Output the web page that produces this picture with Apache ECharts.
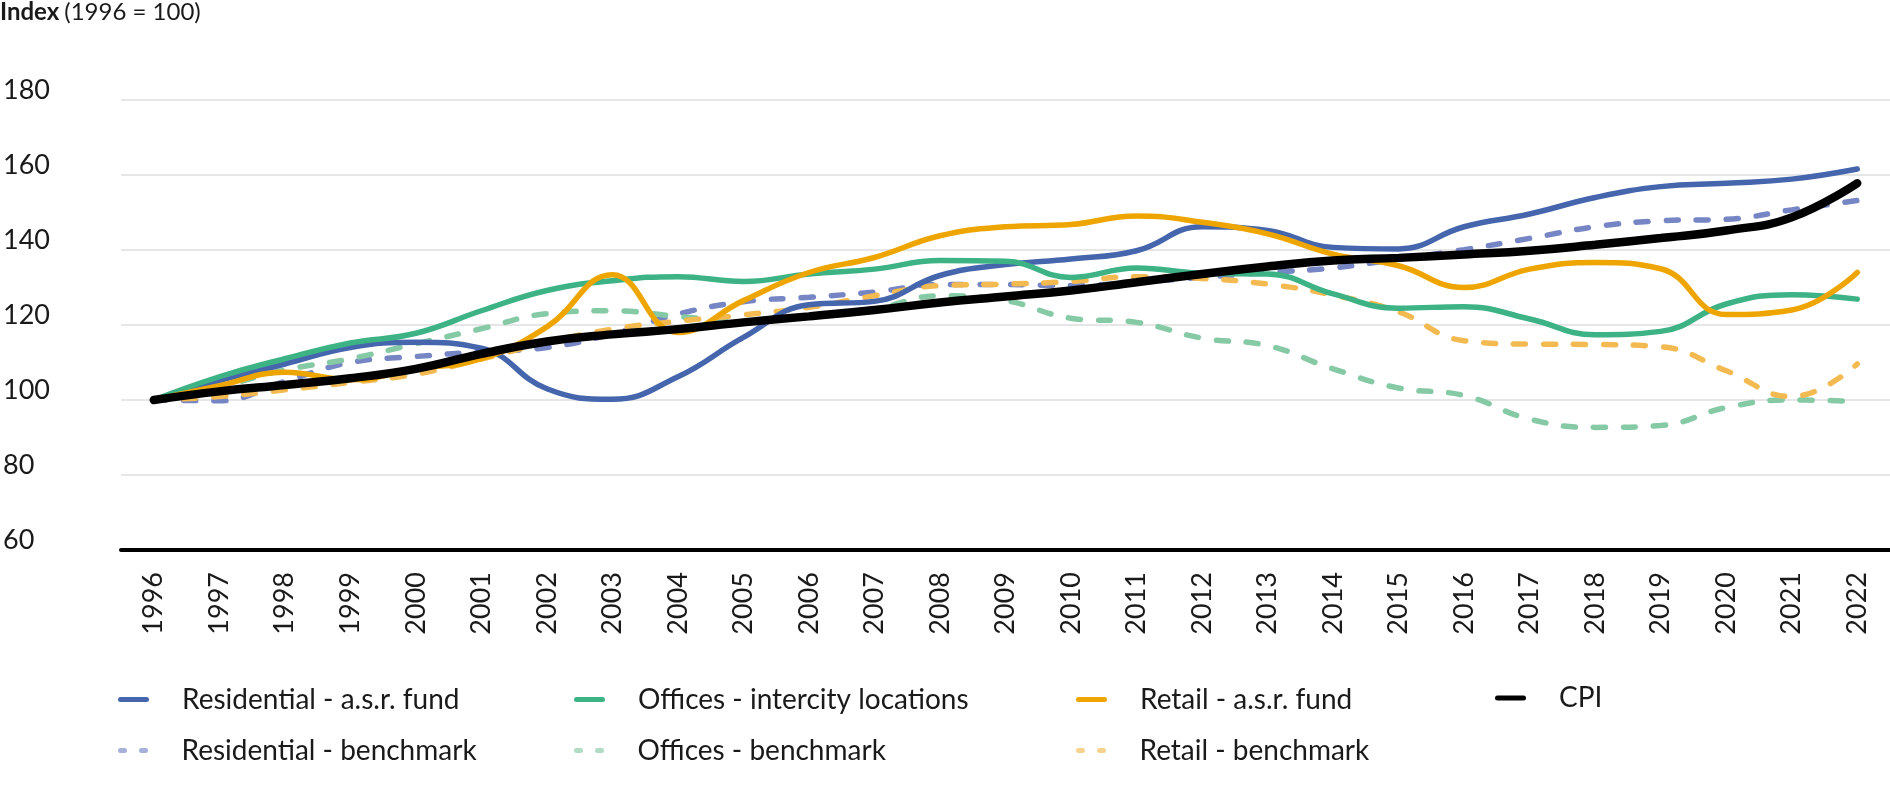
<!doctype html>
<html>
<head>
<meta charset="utf-8">
<title>Index 1996 = 100</title>
<script src="https://cdn.jsdelivr.net/npm/echarts@6/dist/echarts.min.js"></script>
<style>
  html, body { margin: 0; padding: 0; background: #fff; }
  #main { width: 1890px; height: 800px; }
</style>
</head>
<body>
<div id="main"></div>
<script>
// years on the x axis
var years = ['1996','1997','1998','1999','2000','2001','2002','2003','2004','2005','2006','2007','2008','2009',
             '2010','2011','2012','2013','2014','2015','2016','2017','2018','2019','2020','2021','2022'];

// index values (1996 = 100)
var resFund  = [100, 105.2, 109.6, 114.0, 115.4, 113.8, 103.0, 100.2, 106.2, 116.7, 125.4, 126.3, 133.2, 136.1,
                137.6, 139.8, 146.2, 145.2, 140.7, 140.3, 146.2, 149.6, 154.0, 156.9, 157.8, 158.9, 161.6];
var offFund  = [100, 106.2, 111.0, 115.2, 117.8, 123.8, 129.2, 131.8, 132.9, 131.6, 133.6, 134.9, 137.2, 137.0,
                132.7, 135.2, 133.8, 133.6, 128.3, 124.5, 124.9, 121.6, 117.4, 118.3, 125.6, 128.1, 126.9];
var retFund  = [100, 103.8, 107.4, 105.4, 108.3, 111.0, 119.5, 133.4, 118.0, 126.5, 134.0, 138.0, 143.8, 146.2,
                146.8, 149.1, 147.4, 144.3, 138.9, 135.8, 130.0, 134.9, 136.7, 135.0, 122.8, 124.0, 134.0];
var cpi      = [100, 102.3, 104.0, 105.8, 108.3, 112.3, 115.6, 117.5, 118.9, 120.7, 122.3, 124.0, 126.0, 127.6,
                129.2, 131.4, 133.6, 135.6, 137.2, 137.9, 138.8, 139.8, 141.4, 143.2, 145.2, 148.7, 157.8];
var resBench = [100, 99.8, 105.0, 110.0, 111.6, 112.9, 114.0, 117.6, 122.9, 126.2, 127.4, 128.8, 130.8, 130.8,
                130.5, 131.4, 132.7, 134.0, 135.2, 137.6, 140.1, 143.1, 146.2, 147.8, 148.2, 150.7, 153.2];
var offBench = [100, 103.5, 108.0, 111.0, 115.0, 119.0, 123.0, 123.8, 122.3, 121.0, 122.5, 124.3, 127.8, 126.5,
                121.8, 120.7, 116.5, 114.5, 108.3, 103.2, 101.2, 94.9, 92.7, 93.2, 98.0, 100.0, 99.6];
var retBench = [100, 100.9, 102.7, 104.7, 106.9, 110.9, 115.4, 118.9, 121.0, 122.7, 124.7, 127.8, 130.5, 130.9,
                131.6, 132.9, 132.4, 130.9, 128.0, 123.5, 115.8, 114.9, 114.8, 114.2, 107.8, 100.9, 109.6];

var font = 'Lato, "Noto Sans", sans-serif';
var txt = '#1a1a1a';

// legend icons: a short rounded bar, or two rounded dots for the benchmarks
var barIcon = 'path://M2.5,0 h26 a2.5,2.5 0 0 1 0,5 h-26 a2.5,2.5 0 0 1 0,-5 z';
var dotIcon = 'path://M2.5,0 h4 a2.5,2.5 0 0 1 0,5 h-4 a2.5,2.5 0 0 1 0,-5 z M23.5,0 h4 a2.5,2.5 0 0 1 0,5 h-4 a2.5,2.5 0 0 1 0,-5 z';

var myChart = echarts.init(document.getElementById('main'));

// one legend box per item so the columns line up like the original
function leg(name, left, center, h, dashed) {
    return {
        data: [{ name: name, icon: dashed ? dotIcon : barIcon }],
        left: left,
        top: center - h / 2,
        padding: 0,
        itemWidth: 31,
        itemHeight: h,
        itemStyle: { opacity: dashed ? 0.65 : 1 },
        textStyle: { fontSize: 28, fontFamily: font, color: txt, padding: [0, 0, 0, 28] }
    };
}

function line(name, data, color, width, dashed, z) {
    return {
        name: name,
        type: 'line',
        data: data,
        smooth: 0.45,
        symbol: 'none',
        z: z,
        lineStyle: { color: color, width: width, type: dashed ? [12, 18] : 'solid', cap: 'round' },
        itemStyle: { color: color },
        emphasis: { disabled: true }
    };
}

option = {
    animation: false,
    title: {
        left: 0, top: 0, padding: 0,
        text: '{b|Index} {n|(1996 = 100)}',
        textStyle: {
            fontWeight: 'normal',
            rich: {
                b: { fontSize: 24, fontWeight: 'bold', fontFamily: font, color: txt },
                n: { fontSize: 24, fontWeight: 'normal', fontFamily: font, color: txt }
            }
        }
    },
    legend: [
        leg('Residential - a.s.r. fund', 118, 688, 5, false),
        leg('Offices - intercity locations', 574, 688, 5, false),
        leg('Retail - a.s.r. fund', 1076, 688, 5, false),
        leg('CPI', 1495, 688, 8, false),
        leg('Residential - benchmark', 118, 739, 5, true),
        leg('Offices - benchmark', 574, 739, 5, true),
        leg('Retail - benchmark', 1076, 739, 5, true)
    ],
    grid: { left: 118, right: 0, top: 100, bottom: 250 },
    xAxis: {
        type: 'category',
        data: years,
        boundaryGap: true,
        axisLine: { lineStyle: { color: '#000', width: 4 } },
        axisTick: { show: false },
        axisLabel: { rotate: 90, margin: 22, fontSize: 27, fontFamily: font, color: txt, interval: 0 }
    },
    yAxis: {
        type: 'value',
        min: 60, max: 180, interval: 20,
        axisLine: { show: false },
        axisTick: { show: false },
        splitLine: { lineStyle: { color: '#e6e6e6', width: 2 } },
        axisLabel: {
            align: 'left', verticalAlign: 'bottom', lineHeight: 20, margin: 118,
            fontSize: 27, fontFamily: font, color: txt
        }
    },
    series: [
        line('Residential - benchmark', resBench, '#7686c5', 5.5, true, 2),
        line('Offices - benchmark', offBench, '#85c9a5', 5.5, true, 2),
        line('Retail - benchmark', retBench, '#f3ba51', 5.5, true, 2),
        line('Residential - a.s.r. fund', resFund, '#4565ad', 5.5, false, 3),
        line('Offices - intercity locations', offFund, '#3db385', 5.5, false, 3),
        line('Retail - a.s.r. fund', retFund, '#efa500', 5.5, false, 3),
        line('CPI', cpi, '#000000', 8.5, false, 4)
    ]
};
myChart.setOption(option);
</script>
</body>
</html>
